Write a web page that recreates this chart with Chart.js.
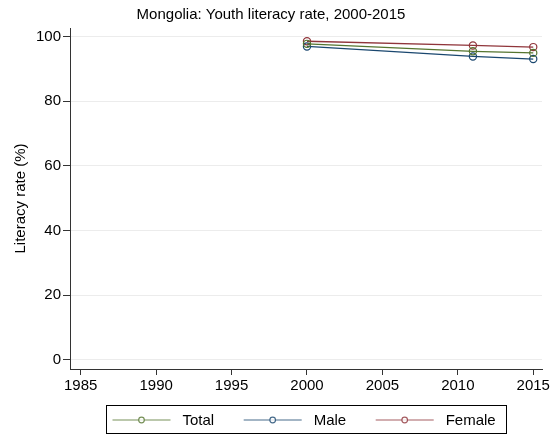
<!DOCTYPE html>
<html><head><meta charset="utf-8">
<script src="https://cdn.jsdelivr.net/npm/chart.js@4"></script>
<style>html,body{margin:0;padding:0;background:#fff}canvas{display:block}</style>
</head><body>
<canvas id="c" width="557" height="435"></canvas>
<script>
const years = [2000, 2011, 2015];
const totalValues = [97.7, 95.4, 94.9];
const maleValues = [96.9, 93.8, 93.0];
const femaleValues = [98.5, 97.2, 96.7];
const seriesNames = ['Total', 'Male', 'Female'];
const xTickValues = [1985, 1990, 1995, 2000, 2005, 2010, 2015];
const yTickValues = [0, 20, 40, 60, 80, 100];
const titleText = 'Mongolia: Youth literacy rate, 2000-2015';
const yAxisTitle = 'Literacy rate (%)';

const colors = ['#55752f', '#1a476f', '#90353b'];
const FAMILY = '"Liberation Sans", Arial, Helvetica, sans-serif';
const seriesValues = [totalValues, maleValues, femaleValues];

const datasets = seriesNames.map((name, i) => ({
  label: name,
  data: years.map((yr, j) => ({x: yr, y: seriesValues[i][j]})),
  borderColor: colors[i],
  backgroundColor: 'rgba(0,0,0,0)',
  borderWidth: 1.3,
  pointRadius: 3.6,
  pointBorderWidth: 1.2,
  pointBorderColor: colors[i],
  pointBackgroundColor: 'rgba(0,0,0,0)',
  tension: 0,
  fill: false
}));

const boxLegend = {
  id: 'boxLegend',
  afterDraw(chart) {
    const {ctx, chartArea} = chart;
    ctx.save();
    ctx.font = '15px ' + FAMILY;
    const widths = seriesNames.map(n => ctx.measureText(n).width);
    const lineLen = 58, textGap = 12, itemGap = 29.5, padL = 6, padR = 11;
    let total = padL + padR;
    widths.forEach((w, i) => { total += lineLen + textGap + w + (i < widths.length - 1 ? itemGap : 0); });
    const cx = (chartArea.left + chartArea.right) / 2;
    const bx = Math.round(cx - total / 2) + 0.5;
    const by = chart.height - 29.5, bh = 28;
    ctx.strokeStyle = '#000';
    ctx.lineWidth = 1;
    ctx.strokeRect(bx, by, Math.round(total), bh);
    const cy = Math.round(by + bh / 2);
    let x = bx + padL;
    seriesNames.forEach((n, i) => {
      ctx.strokeStyle = colors[i];
      ctx.globalAlpha = 0.8;
      ctx.lineWidth = 1.2;
      ctx.beginPath(); ctx.moveTo(x, cy); ctx.lineTo(x + lineLen, cy); ctx.stroke();
      ctx.beginPath(); ctx.arc(x + lineLen / 2, cy, 2.8, 0, 2 * Math.PI);
      ctx.fillStyle = '#fff'; ctx.fill(); ctx.stroke();
      ctx.globalAlpha = 1;
      ctx.fillStyle = '#000';
      ctx.textBaseline = 'middle';
      ctx.textAlign = 'left';
      ctx.fillText(n, x + lineLen + textGap, cy + 0.5);
      x += lineLen + textGap + widths[i] + itemGap;
    });
    ctx.restore();
  }
};

new Chart(document.getElementById('c'), {
  type: 'line',
  data: {datasets},
  plugins: [boxLegend],
  options: {
    responsive: false,
    animation: false,
    layout: {padding: {left: 0, right: 15, top: 0, bottom: 38}},
    plugins: {
      legend: {display: false},
      tooltip: {enabled: false},
      title: {
        display: true,
        text: titleText,
        color: '#000',
        font: {size: 15, family: FAMILY, weight: 'normal', lineHeight: 1.2},
        padding: {top: 6, bottom: 4}
      }
    },
    scales: {
      x: {
        type: 'linear',
        min: 1984.29,
        max: 2015.58,
        afterBuildTicks: s => { s.ticks = xTickValues.map(v => ({value: v})); },
        ticks: {
          color: '#000',
          font: {size: 15, family: FAMILY},
          padding: 2,
          maxRotation: 0,
          autoSkip: false,
          callback: v => String(v)
        },
        grid: {drawOnChartArea: false, tickColor: '#333', tickLength: 6, lineWidth: 1},
        border: {color: '#333', width: 1}
      },
      y: {
        type: 'linear',
        min: -2.86,
        max: 102.6,
        afterBuildTicks: s => { s.ticks = yTickValues.map(v => ({value: v})); },
        afterFit: s => { s.width = 70; },
        ticks: {
          color: '#000',
          font: {size: 15, family: FAMILY},
          padding: 2,
          callback: v => String(v)
        },
        grid: {color: '#ececec', tickColor: '#333', tickLength: 7, lineWidth: 1},
        border: {color: '#333', width: 1},
        title: {
          display: true,
          text: yAxisTitle,
          color: '#000',
          font: {size: 15, family: FAMILY, lineHeight: 1.2},
          padding: {top: 12, bottom: 0}
        }
      }
    }
  }
});
</script>
</body></html>
